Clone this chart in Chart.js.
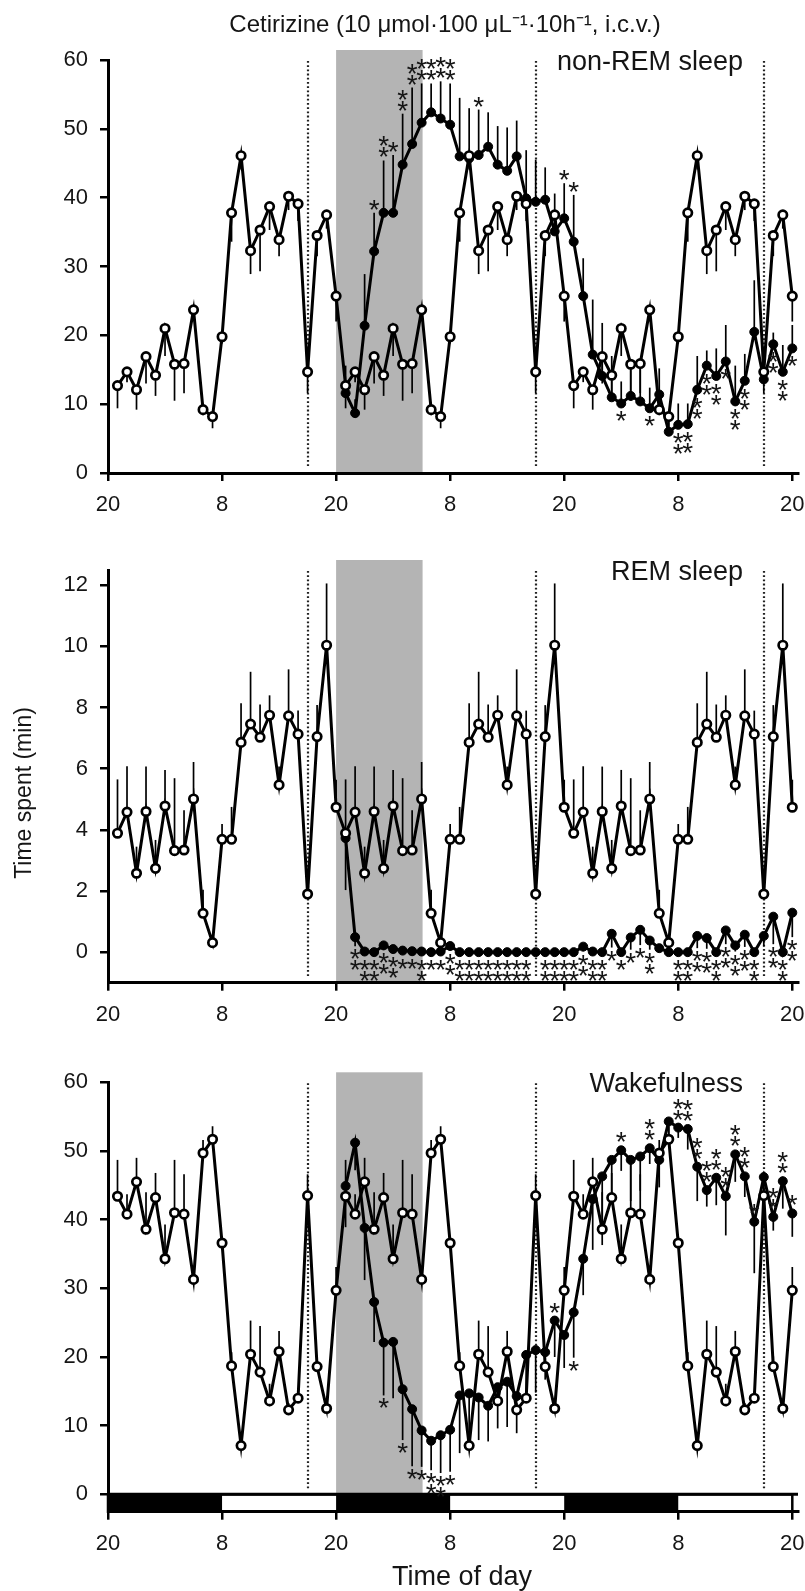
<!DOCTYPE html>
<html>
<head>
<meta charset="utf-8">
<script src="https://cdn.jsdelivr.net/npm/chart.js@4.4.1/dist/chart.umd.min.js"></script>
<style>
  body { margin: 0; background: #fff; width: 805px; height: 1591px; position: relative; overflow: hidden; }
  canvas { position: absolute; left: 0; }
</style>
</head>
<body>
<canvas id="nrem" width="805" height="530" style="top:0px"></canvas>
<canvas id="rem" width="805" height="525" style="top:530px"></canvas>
<canvas id="wake" width="805" height="536" style="top:1055px"></canvas>
<script>
// time axis: hours after the first 20:00
const tickHours = [0, 12, 24, 36, 48, 60, 72];
const tickLabels = ['20', '8', '20', '8', '20', '8', '20'];
const infusionHours = [24, 33.1];
const markerHours = [21, 45, 69];
const darkPeriods = [[0, 12], [24, 36], [48, 60]];

// vehicle (open circles) - one day profile, shown on each of the 3 days
const nremCtrlDay = [12.7, 14.7, 12.1, 16.9, 14.2, 21.0, 15.8, 15.9, 23.7, 9.2, 8.2, 19.8, 37.8, 46.1, 32.3, 35.3, 38.7, 33.9, 40.2, 39.1, 14.7, 34.5, 37.5, 25.7];
const nremCtrlErrDay = [3.3, 1.5, 2.9, 3.9, 3.0, 4.0, 5.3, 4.3, 1.5, 0.8, 1.7, 1.0, 4.2, 2.0, 3.4, 6.0, 3.4, 2.4, 2.0, 2.5, 3.1, 3.0, 2.0, 3.7];
const remCtrlDay = [3.89, 4.58, 2.58, 4.6, 2.74, 4.78, 3.32, 3.34, 5.01, 1.27, 0.31, 3.69, 3.69, 6.86, 7.46, 7.03, 7.75, 5.47, 7.73, 7.13, 1.9, 7.05, 10.04, 4.74];
const remCtrlErrDay = [1.76, 1.5, 0.87, 1.47, 0.93, 1.18, 2.37, 1.3, 1.21, 0.77, 0.2, 0.5, 1.06, 1.28, 1.71, 1.07, 0.65, 0.6, 1.52, 0.77, 0.3, 1.03, 2.02, 0.9];
const wakeCtrlDay = [43.4, 40.8, 45.5, 38.6, 43.2, 34.3, 41.0, 40.8, 31.3, 49.7, 51.7, 36.6, 18.7, 7.1, 20.4, 17.8, 13.6, 20.8, 12.3, 14.0, 43.5, 18.6, 12.5, 29.7];
const wakeCtrlErrDay = [5.3, 2.9, 3.5, 5.4, 3.6, 5.0, 7.7, 5.8, 1.5, 1.9, 1.9, 1.0, 2.0, 1.0, 4.9, 6.7, 2.5, 3.0, 1.0, 1.0, 3.1, 1.5, 1.0, 3.4];

// cetirizine (filled circles), hours 25..72
const nremDrug = [11.6, 8.7, 21.4, 32.2, 37.8, 37.8, 44.8, 47.8, 50.9, 52.4, 51.5, 50.6, 46.0, 45.7, 46.2, 47.4, 44.8, 43.9, 46.0, 39.9, 39.4, 39.7, 35.1, 37.0,
                  33.6, 25.7, 17.2, 14.1, 11.0, 10.1, 11.2, 10.4, 9.4, 11.4, 6.0, 7.0, 7.1, 12.1, 15.6, 14.1, 16.2, 10.4, 13.4, 20.5, 13.6, 18.7, 14.7, 18.1];
const nremDrugErr = [4.0, 2.0, 7.5, 5.6, 7.6, 8.4, 7.4, 8.2, 5.7, 4.2, 5.4, 6.0, 8.5, 7.3, 6.6, 5.0, 5.6, 6.3, 5.2, 7.0, 6.1, 4.7, 5.5, 5.1,
                     6.8, 5.5, 8.0, 7.7, 6.0, 3.2, 5.0, 6.0, 3.0, 3.8, 1.5, 3.1, 3.0, 4.9, 2.2, 4.0, 5.3, 5.2, 3.9, 7.5, 3.0, 1.7, 3.9, 3.4];
const nremStars = [0, 0, 0, 1, 2, 1, 2, 2, 2, 2, 2, 2, 0, 0, 1, 0, 0, 0, 0, 0, 0, 0, 0, 1,
                   1, 0, 0, 0, 0, 1, 0, 0, 1, 0, 0, 2, 2, 2, 2, 2, 1, 2, 2, 0, 0, 2, 2, 1];

const remDrug = [3.73, 0.49, 0.02, 0.0, 0.22, 0.1, 0.05, 0.03, 0.02, 0.0, 0.02, 0.2, 0.0, 0.0, 0.0, 0.0, 0.0, 0.0, 0.0, 0.0, 0.0, 0.0, 0.0, 0.0,
                 0.0, 0.18, 0.02, 0.0, 0.6, 0.0, 0.48, 0.73, 0.38, 0.13, 0.0, 0.0, 0.0, 0.53, 0.46, 0.0, 0.71, 0.22, 0.57, 0.0, 0.53, 1.16, 0.0, 1.29];
const remDrugErr = [1.7, 0.3, 0.05, 0, 0.15, 0.1, 0.05, 0.05, 0.05, 0, 0.05, 0.15, 0, 0, 0, 0, 0, 0, 0, 0, 0, 0, 0, 0,
                    0, 0.15, 0.05, 0, 0.45, 0, 0.4, 0.5, 0.3, 0.1, 0, 0, 0, 0.4, 0.35, 0, 0.45, 0.2, 0.4, 0, 0.35, 0.9, 0, 0.8];
const remStars = [0, 2, 2, 2, 2, 2, 1, 1, 2, 1, 1, 2, 2, 2, 2, 2, 2, 2, 2, 2, 0, 2, 2, 2,
                  2, 2, 2, 2, 1, 1, 1, 1, 2, 0, 0, 2, 2, 2, 2, 2, 2, 2, 2, 2, 0, 2, 2, 2];

const wakeDrug = [44.9, 51.2, 38.8, 28.0, 22.1, 22.2, 15.3, 12.4, 9.3, 7.8, 8.6, 9.4, 14.4, 14.7, 14.1, 12.9, 15.6, 16.4, 14.3, 20.3, 21.0, 20.7, 25.3, 23.2,
                  26.5, 34.3, 43.0, 46.3, 48.7, 50.1, 48.7, 49.2, 50.4, 48.7, 54.3, 53.4, 53.2, 47.7, 44.3, 46.1, 43.4, 49.5, 46.3, 39.7, 46.2, 40.4, 45.6, 40.9];
const wakeDrugErr = [6.0, 4.0, 7.6, 5.8, 7.7, 8.2, 7.4, 8.3, 5.3, 4.3, 5.5, 6.1, 8.4, 7.0, 6.2, 5.2, 6.0, 6.6, 5.4, 5.4, 6.2, 4.0, 5.3, 4.8,
                     6.6, 5.3, 7.4, 10.0, 5.0, 3.0, 6.0, 5.0, 2.3, 4.0, 2.0, 1.5, 3.0, 5.0, 2.4, 4.0, 5.7, 4.0, 3.0, 7.5, 3.0, 2.0, 4.0, 3.4];
const wakeStars = [0, 0, 0, 0, 1, 0, 1, 1, 1, 2, 2, 1, 0, 0, 0, 0, 0, 0, 0, 0, 0, 0, 1, 0,
                   1, 0, 0, 0, 0, 1, 0, 0, 2, 0, 0, 2, 2, 2, 2, 2, 2, 2, 2, 1, 0, 2, 2, 1];

const ctrlHours = Array.from({ length: 72 }, (_, i) => i + 1);
const drugHours = Array.from({ length: 48 }, (_, i) => i + 25);

const FONT = "'Liberation Sans', Arial, Helvetica, sans-serif";
const INK = '#151515';

function panelDecor(p) {
  return {
    id: 'decor_' + p.id,
    beforeDraw(chart) {
      const { ctx, chartArea: a, scales: { x, y } } = chart;
      ctx.save();
      // infusion period
      const sx0 = x.getPixelForValue(infusionHours[0]);
      const sx1 = x.getPixelForValue(infusionHours[1]);
      const sb = y.getPixelForValue(p.floor);
      ctx.fillStyle = '#b4b4b4';
      ctx.fillRect(sx0, a.top - 10, sx1 - sx0, sb - a.top + 10);
      // light / dark bar
      if (p.lightBar) {
        const y0 = y.getPixelForValue(0);
        ctx.fillStyle = '#000';
        darkPeriods.forEach(([h0, h1]) => {
          const px0 = x.getPixelForValue(h0), px1 = x.getPixelForValue(h1);
          ctx.fillRect(px0, y0, px1 - px0, a.bottom - y0);
        });
        ctx.strokeStyle = '#000';
        ctx.lineWidth = 2.5;
        ctx.strokeRect(x.getPixelForValue(0), y0, x.getPixelForValue(72) - x.getPixelForValue(0), a.bottom - y0);
        ctx.lineWidth = 3;
        ctx.beginPath();
        ctx.moveTo(a.left, y0);
        ctx.lineTo(a.right, y0);
        ctx.stroke();
      }
      // dotted markers
      ctx.strokeStyle = '#222';
      ctx.lineWidth = 2.2;
      ctx.setLineDash([1.8, 2.4]);
      markerHours.forEach(h => {
        const px = Math.round(x.getPixelForValue(h));
        ctx.beginPath();
        ctx.moveTo(px, a.top + 1);
        ctx.lineTo(px, y.getPixelForValue(p.floor) - 6);
        ctx.stroke();
      });
      ctx.restore();
    },
    beforeDatasetsDraw(chart) {
      const { ctx, scales: { x, y } } = chart;
      ctx.save();
      ctx.strokeStyle = '#000';
      ctx.lineWidth = 1.7;
      chart.data.datasets.forEach(ds => {
        ds.data.forEach((pt, i) => {
          const e = ds.errors[i];
          if (!e) return;
          const px = x.getPixelForValue(pt.x);
          ctx.beginPath();
          ctx.moveTo(px, y.getPixelForValue(pt.y));
          ctx.lineTo(px, y.getPixelForValue(pt.y + ds.errDir * e));
          ctx.stroke();
        });
      });
      ctx.restore();
    },
    afterDatasetsDraw(chart) {
      const { ctx, chartArea: a, scales: { x, y } } = chart;
      const drug = chart.data.datasets[1];
      ctx.save();
      ctx.fillStyle = INK;
      // significance marks
      ctx.font = '28px ' + FONT;
      ctx.textAlign = 'center';
      ctx.textBaseline = 'alphabetic';
      const m = ctx.measureText('*');
      const shift = (m.actualBoundingBoxAscent - m.actualBoundingBoxDescent) / 2;
      drug.data.forEach((pt, i) => {
        const n = p.stars[i];
        if (!n) return;
        const c = p.ctrl[pt.x - 1];
        const up = pt.y > c;
        const dir = up ? -1 : 1;
        const py = y.getPixelForValue(pt.y);
        const sameSide = drug.errDir === (up ? 1 : -1);
        const errPx = sameSide ? Math.abs(y.getPixelForValue(pt.y + drug.errDir * drug.errors[i]) - py) : 0;
        const first = Math.max(errPx + 8, 13);
        const px = x.getPixelForValue(pt.x);
        for (let k = 0; k < n; k++) {
          ctx.fillText('*', px, py + dir * (first + k * 11) + shift);
        }
      });
      // panel label
      ctx.font = '27px ' + FONT;
      ctx.textAlign = 'right';
      ctx.textBaseline = 'alphabetic';
      ctx.fillText(p.label, a.right - 55, a.top + 10);
      // figure title
      if (p.title) {
        ctx.font = '24px ' + FONT;
        ctx.textAlign = 'center';
        ctx.fillText(p.title, 445, 32);
      }
      // axis titles
      if (p.yTitle) {
        ctx.save();
        ctx.font = '23px ' + FONT;
        ctx.textAlign = 'center';
        ctx.textBaseline = 'middle';
        ctx.translate(25, p.yTitleY);
        ctx.rotate(-Math.PI / 2);
        ctx.fillText(p.yTitle, 0, 0);
        ctx.restore();
      }
      if (p.xTitle) {
        ctx.font = '27px ' + FONT;
        ctx.textAlign = 'center';
        ctx.fillText(p.xTitle, 462, p.xTitleY);
      }
      ctx.restore();
    }
  };
}

function makePanel(p) {
  const ctrl = p.ctrl;
  return new Chart(document.getElementById(p.id), {
    type: 'line',
    data: {
      datasets: [
        {
          label: 'Vehicle',
          data: ctrlHours.map((h, i) => ({ x: h, y: ctrl[i] })),
          errors: p.ctrlErr,
          errDir: p.ctrlDir,
          borderColor: '#000',
          borderWidth: 3,
          tension: 0,
          pointRadius: 4.2,
          pointBorderWidth: 2.7,
          pointBackgroundColor: '#fff',
          pointBorderColor: '#000'
        },
        {
          label: 'Cetirizine',
          data: drugHours.map((h, i) => ({ x: h, y: p.drug[i] })),
          errors: p.drugErr,
          errDir: p.drugDir,
          borderColor: '#000',
          borderWidth: 3,
          tension: 0,
          pointRadius: 4.5,
          pointBorderWidth: 1,
          pointBackgroundColor: '#000',
          pointBorderColor: '#000'
        }
      ]
    },
    options: {
      responsive: false,
      maintainAspectRatio: false,
      animation: false,
      layout: { padding: { left: 0, right: 7, top: p.top, bottom: 0 } },
      plugins: { legend: { display: false }, tooltip: { enabled: false } },
      scales: {
        x: {
          type: 'linear',
          min: 0,
          max: 72.6,
          afterBuildTicks: s => { s.ticks = tickHours.map(v => ({ value: v })); },
          afterFit: s => { s.height = p.xHeight; s.paddingLeft = 0; s.paddingRight = 0; },
          ticks: {
            autoSkip: false, maxRotation: 0, padding: 11, color: INK,
            font: { family: FONT, size: 22 },
            callback: (v, i) => tickLabels[i]
          },
          grid: { drawOnChartArea: false, drawTicks: true, tickLength: 8, color: '#000', lineWidth: 2.5 },
          border: { display: true, color: '#000', width: 3 }
        },
        y: {
          min: p.yMin,
          max: p.yMax,
          afterBuildTicks: s => { s.ticks = p.yTicks.map(v => ({ value: v })); },
          afterFit: s => { s.width = 108; s.paddingTop = 0; s.paddingBottom = 0; },
          ticks: { padding: 12, color: INK, font: { family: FONT, size: 22 } },
          grid: { drawOnChartArea: false, drawTicks: true, tickLength: 8, color: '#000', lineWidth: 2.5 },
          border: { display: true, color: '#000', width: 3 }
        }
      }
    },
    plugins: [panelDecor(p)]
  });
}

makePanel({
  id: 'nrem', top: 60, xHeight: 57,
  yMin: 0, yMax: 60, yTicks: [0, 10, 20, 30, 40, 50, 60], floor: 0,
  ctrl: [...nremCtrlDay, ...nremCtrlDay, ...nremCtrlDay],
  ctrlErr: [...nremCtrlErrDay, ...nremCtrlErrDay, ...nremCtrlErrDay], ctrlDir: -1,
  drug: nremDrug, drugErr: nremDrugErr, drugDir: 1, stars: nremStars,
  label: 'non-REM sleep',
  title: 'Cetirizine (10 \u03bcmol\u00b7100 \u03bcL\u207b\u00b9\u00b710h\u207b\u00b9, i.c.v.)'
});

makePanel({
  id: 'rem', top: 40, xHeight: 72.3,
  yMin: -1, yMax: 12.5, yTicks: [0, 2, 4, 6, 8, 10, 12], floor: -1,
  ctrl: [...remCtrlDay, ...remCtrlDay, ...remCtrlDay],
  ctrlErr: [...remCtrlErrDay, ...remCtrlErrDay, ...remCtrlErrDay], ctrlDir: 1,
  drug: remDrug, drugErr: remDrugErr, drugDir: -1, stars: remStars,
  label: 'REM sleep',
  yTitle: 'Time spent (min)', yTitleY: 263
});

makePanel({
  id: 'wake', top: 27.3, xHeight: 79.3,
  yMin: -2.53, yMax: 60, yTicks: [0, 10, 20, 30, 40, 50, 60], floor: 0,
  ctrl: [...wakeCtrlDay, ...wakeCtrlDay, ...wakeCtrlDay],
  ctrlErr: [...wakeCtrlErrDay, ...wakeCtrlErrDay, ...wakeCtrlErrDay], ctrlDir: 1,
  drug: wakeDrug, drugErr: wakeDrugErr, drugDir: -1, stars: wakeStars,
  label: 'Wakefulness', lightBar: true,
  xTitle: 'Time of day', xTitleY: 530
});
</script>
</body>
</html>
